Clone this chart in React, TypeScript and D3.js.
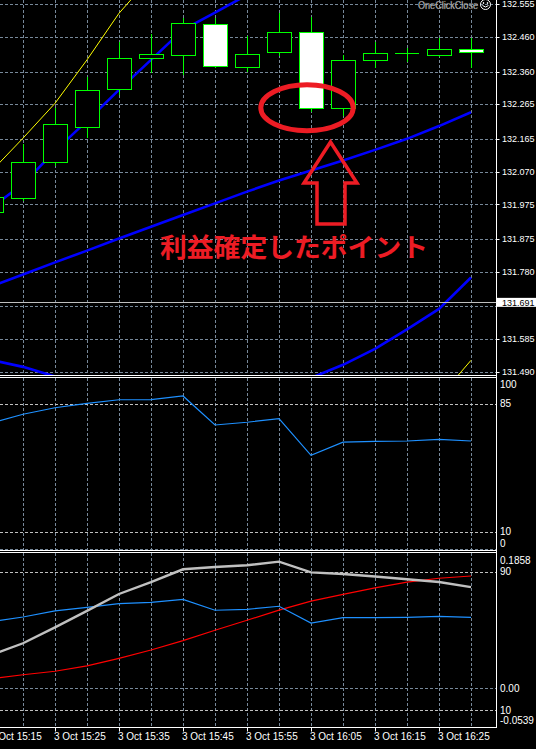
import React from 'react';
import * as d3 from 'd3';

const W = 536;
const H = 749;

// Bar times (M5)
const barTimes = [
  '15:15', '15:20', '15:25', '15:30', '15:35', '15:40', '15:45', '15:50',
  '15:55', '16:00', '16:05', '16:10', '16:15', '16:20', '16:25', '16:30',
];

// OHLC
const opens = [131.952, 131.993, 132.096, 132.199, 132.309, 132.398, 132.407, 132.497, 132.372, 132.416, 132.474, 132.254, 132.392, 132.411, 132.407, 132.425];
const highs = [132.017, 132.150, 132.255, 132.343, 132.446, 132.469, 132.514, 132.514, 132.463, 132.531, 132.519, 132.408, 132.445, 132.428, 132.458, 132.458];
const lows = [131.941, 131.985, 132.087, 132.167, 132.292, 132.355, 132.349, 132.370, 132.360, 132.405, 132.244, 132.231, 132.370, 132.387, 132.401, 132.370];
const closes = [131.994, 132.097, 132.207, 132.304, 132.398, 132.410, 132.500, 132.375, 132.410, 132.474, 132.254, 132.393, 132.411, 132.411, 132.425, 132.415];

// Bollinger bands (2σ blue, 3σ yellow)
const bbMid = [131.737, 131.772, 131.807, 131.841, 131.876, 131.910, 131.944, 131.978, 132.012, 132.044, 132.073, 132.102, 132.133, 132.165, 132.202, 132.242];
const bbUpper = [131.965, 132.034, 132.130, 132.217, 132.307, 132.394, 132.481, 132.531, 132.582, 132.631, 132.675, 132.695, 132.710, 132.717, 132.733, 132.721];
const bbLower = [131.524, 131.504, 131.476, 131.466, 131.446, 131.427, 131.408, 131.425, 131.442, 131.457, 131.472, 131.510, 131.556, 131.613, 131.672, 131.763];
const bbUpper3 = [132.070, 132.167, 132.268, 132.394, 132.529, 132.634, 132.749, 132.808, 132.867, 132.925, 132.976, 132.991, 132.998, 132.994, 132.998, 132.961];
const bbLower3 = [131.418, 131.370, 131.322, 131.278, 131.230, 131.186, 131.140, 131.149, 131.157, 131.164, 131.171, 131.213, 131.268, 131.337, 131.415, 131.523];

const bidPrice = 131.691;
const priceGrid = [132.555, 132.460, 132.360, 132.265, 132.165, 132.070, 131.975, 131.875, 131.780, 131.680, 131.585, 131.490];

// Oscillator window 1
const osc1 = [73.7, 79.0, 82.8, 85.4, 87.5, 87.6, 89.7, 72.7, 74.3, 76.4, 54.9, 62.6, 63.1, 63.3, 64.3, 63.3];
const osc1Levels = [85, 10];

// Oscillator window 2
const osc2Blue = [61.1, 63.8, 67.3, 69.4, 71.5, 72.3, 74.0, 67.7, 68.2, 70.0, 60.3, 63.4, 63.4, 63.6, 64.2, 63.6];
const osc2Gray = [41.8, 48.6, 57.8, 67.3, 77.1, 83.9, 91.4, 92.7, 93.7, 95.8, 89.6, 88.7, 87.2, 85.6, 84.0, 81.1];
const osc2Red = [28.0, 30.4, 32.4, 35.5, 39.9, 44.7, 50.1, 56.1, 61.9, 67.8, 73.0, 76.9, 80.6, 84.0, 86.2, 87.5];
const osc2Levels = [90, 10];
const macdMin = -0.0539;
const macdMax = 0.1858;

const annotation = '利益確定したポイント';

const FONT = '"Liberation Sans", Arial, sans-serif';
const GRID = '#778899';
const LEVEL = '#c0c0c0';
const CANDLE = '#00ff00';
const ANN = '#ed1c24';

const parse = d3.timeParse('%Y-%m-%d %H:%M');
const dates = barTimes.map((t) => parse(`2014-10-03 ${t}`) as Date);

const PLOT_R = 496.5;
const P1 = { top: 0, bottom: 375.5 };
const P2 = { top: 377.5, bottom: 550.5 };
const P3 = { top: 552.5, bottom: 727.5 };

export default function App() {
  const x = d3.scaleTime().domain([dates[0], dates[dates.length - 1]]).range([-9, 471]);
  const yP = d3.scaleLinear().domain([131.49, 132.555]).range([371.7, 4.3]);
  const y2 = d3.scaleLinear().domain([0, 100]).range([549, 378.4]);
  const y3 = d3.scaleLinear().domain([0, 100]).range([727.3, 554.4]);
  const yM = d3.scaleLinear().domain([macdMin, macdMax]).range([727.6, 552]);

  const lineOf = (vals: number[], y: d3.ScaleLinear<number, number>) =>
    d3.line<number>().x((_, i) => x(dates[i])).y((d) => y(d))(vals) || '';

  // time labels every second bar, starting with the first one
  const labelTicks = dates.filter((_, i) => i % 2 === 0);
  const fmt = d3.timeFormat('%-d %b %H:%M');
  const bodyW = 24;

  const bidY = yP(bidPrice);

  return (
    <svg width={W} height={H} style={{ position: 'absolute', left: 0, top: 0, background: '#000' }}
      xmlns="http://www.w3.org/2000/svg">
      <defs>
        <clipPath id="c1"><rect x={0} y={P1.top} width={PLOT_R} height={P1.bottom - P1.top} /></clipPath>
        <clipPath id="c2"><rect x={0} y={P2.top} width={PLOT_R} height={P2.bottom - P2.top} /></clipPath>
        <clipPath id="c3"><rect x={0} y={P3.top} width={PLOT_R} height={P3.bottom - P3.top} /></clipPath>
      </defs>
      <rect width={W} height={H} fill="#000" />

      {/* vertical grid */}
      {dates.map((d, i) => {
        const xx = Math.round(x(d)) + 0.5;
        if (xx < 0) return null;
        return (
          <g key={'vg' + i} stroke={GRID} strokeDasharray="3,2" shapeRendering="crispEdges">
            <line x1={xx} x2={xx} y1={P1.top} y2={P1.bottom} />
            <line x1={xx} x2={xx} y1={P2.top} y2={P2.bottom} />
            <line x1={xx} x2={xx} y1={P3.top} y2={P3.bottom} />
          </g>
        );
      })}

      {/* price panel */}
      <g clipPath="url(#c1)">
        {priceGrid.map((p) => (
          <line key={'hg' + p} x1={0} x2={PLOT_R} y1={Math.round(yP(p)) + 0.5} y2={Math.round(yP(p)) + 0.5}
            stroke={GRID} strokeDasharray="3,2" shapeRendering="crispEdges" />
        ))}
        <path d={lineOf(bbUpper3, yP)} fill="none" stroke="#ffff00" strokeWidth={1} />
        <path d={lineOf(bbLower3, yP)} fill="none" stroke="#ffff00" strokeWidth={1} />
        <path d={lineOf(bbUpper, yP)} fill="none" stroke="#0000ff" strokeWidth={2.6} />
        <path d={lineOf(bbMid, yP)} fill="none" stroke="#0000ff" strokeWidth={2.6} />
        <path d={lineOf(bbLower, yP)} fill="none" stroke="#0000ff" strokeWidth={2.6} />
        <line x1={0} x2={PLOT_R} y1={Math.round(bidY) + 0.5} y2={Math.round(bidY) + 0.5} stroke="#c0c0c0" />
        {dates.map((d, i) => {
          const cx = x(d);
          const o = yP(opens[i]);
          const c = yP(closes[i]);
          const top = Math.min(o, c);
          const bot = Math.max(o, c);
          const bear = closes[i] < opens[i];
          return (
            <g key={'k' + i} shapeRendering="crispEdges">
              <line x1={cx + 0.5} x2={cx + 0.5} y1={yP(highs[i])} y2={yP(lows[i])} stroke={CANDLE} />
              {bot - top < 1 ? (
                <line x1={cx - bodyW / 2} x2={cx + bodyW / 2} y1={top} y2={top} stroke={CANDLE} />
              ) : (
                <rect x={cx - bodyW / 2 + 0.5} y={top} width={bodyW} height={bot - top}
                  fill={bear ? '#ffffff' : '#000000'} stroke={CANDLE} strokeWidth={1} />
              )}
            </g>
          );
        })}
      </g>

      {/* oscillator 1 */}
      <g clipPath="url(#c2)">
        {osc1Levels.map((v) => (
          <line key={'l1' + v} x1={0} x2={PLOT_R} y1={Math.round(y2(v)) + 0.5} y2={Math.round(y2(v)) + 0.5}
            stroke={LEVEL} strokeDasharray="3,2" shapeRendering="crispEdges" />
        ))}
        <line x1={0} x2={PLOT_R} y1={549.5} y2={549.5} stroke={GRID} strokeDasharray="3,2" />
        <path d={lineOf(osc1, y2)} fill="none" stroke="#1e90ff" strokeWidth={1.2} />
      </g>

      {/* oscillator 2 */}
      <g clipPath="url(#c3)">
        {osc2Levels.map((v) => (
          <line key={'l2' + v} x1={0} x2={PLOT_R} y1={Math.round(y3(v)) + 0.5} y2={Math.round(y3(v)) + 0.5}
            stroke={LEVEL} strokeDasharray="3,2" shapeRendering="crispEdges" />
        ))}
        <line x1={0} x2={PLOT_R} y1={Math.round(yM(0)) + 0.5} y2={Math.round(yM(0)) + 0.5}
          stroke={GRID} strokeDasharray="3,2" shapeRendering="crispEdges" />
        <path d={lineOf(osc2Red, y3)} fill="none" stroke="#ff0000" strokeWidth={1.2} />
        <path d={lineOf(osc2Blue, y3)} fill="none" stroke="#1e90ff" strokeWidth={1.2} />
        <path d={lineOf(osc2Gray, y3)} fill="none" stroke="#c0c0c0" strokeWidth={2.4} />
      </g>

      {/* frame */}
      <g stroke="#ffffff" shapeRendering="crispEdges">
        <line x1={0} x2={PLOT_R} y1={P1.bottom} y2={P1.bottom} />
        <line x1={0} x2={PLOT_R} y1={P2.top} y2={P2.top} />
        <line x1={0} x2={PLOT_R} y1={P2.bottom} y2={P2.bottom} />
        <line x1={0} x2={PLOT_R} y1={P3.top} y2={P3.top} />
        <line x1={0} x2={PLOT_R} y1={P3.bottom} y2={P3.bottom} />
        <line x1={PLOT_R} x2={PLOT_R} y1={0} y2={P3.bottom} />
      </g>

      {/* price axis */}
      <g fontFamily={FONT} fontSize={9} fill="#ffffff">
        {priceGrid.filter((p) => Math.abs(yP(p) - bidY) > 8).map((p) => (
          <g key={'pl' + p}>
            <line x1={PLOT_R} x2={PLOT_R + 3} y1={Math.round(yP(p)) + 0.5} y2={Math.round(yP(p)) + 0.5} stroke="#fff" />
            <text x={502} y={yP(p)} dy="0.35em">{p.toFixed(3)}</text>
          </g>
        ))}
        <rect x={PLOT_R + 0.5} y={bidY - 4.5} width={W - PLOT_R} height={9} fill="#ffffff" />
        <text x={502} y={bidY} dy="0.35em" fill="#000">{bidPrice.toFixed(3)}</text>
      </g>

      {/* oscillator 1 axis */}
      <g fontFamily={FONT} fontSize={10} fill="#ffffff">
        <text x={500} y={y2(100) + 6} dy="0.35em">100</text>
        {osc1Levels.map((v) => (
          <text key={'t1' + v} x={500} y={y2(v)} dy="0.35em">{v}</text>
        ))}
        <text x={500} y={y2(0) - 6} dy="0.35em">0</text>
      </g>

      {/* oscillator 2 axis */}
      <g fontFamily={FONT} fontSize={10} fill="#ffffff">
        <text x={500} y={yM(macdMax) + 8} dy="0.35em">{macdMax.toFixed(4)}</text>
        {osc2Levels.map((v) => (
          <text key={'t2' + v} x={500} y={y3(v)} dy="0.35em">{v}</text>
        ))}
        <text x={500} y={yM(0)} dy="0.35em">0.00</text>
        <text x={500} y={yM(macdMin) - 7} dy="0.35em">{macdMin.toFixed(4)}</text>
      </g>

      {/* time axis */}
      <g fontFamily={FONT} fontSize={10} fill="#ffffff">
        {labelTicks.map((t, i) => {
          const xx = Math.round(x(t)) + 0.5;
          return (
            <g key={'tt' + i}>
              <line x1={xx} x2={xx} y1={P3.bottom} y2={P3.bottom + 4} stroke="#fff" />
              <text x={x(t) - 1} y={740}>{fmt(t)}</text>
            </g>
          );
        })}
      </g>

      {/* OneClickClose label */}
      <text x={418} y={8.5} fontFamily={FONT} fontSize={10} fill="#ffffff" stroke="#333" strokeWidth={0.3}
        textLength={60} lengthAdjust="spacingAndGlyphs">OneClickClose</text>
      <g stroke="#ffffff" fill="none" strokeWidth={1}>
        <circle cx={485.5} cy={4.5} r={5} />
        <circle cx={483.5} cy={3} r={0.5} fill="#fff" />
        <circle cx={487.5} cy={3} r={0.5} fill="#fff" />
        <path d="M482.5,5.5 Q485.5,8.5 488.5,5.5" />
      </g>

      {/* annotations */}
      <ellipse cx={307} cy={107.8} rx={46.2} ry={23} fill="none" stroke={ANN} strokeWidth={5} />
      <path d="M330.5,142 L357,183 L345,183 L345,224 L317,224 L317,183 L304,183 Z"
        fill="none" stroke={ANN} strokeWidth={3.5} strokeLinejoin="miter" />
      <text x={160} y={257} fontFamily='"Noto Sans CJK JP", sans-serif' fontWeight="bold" fontSize={26}
        fill={ANN} textLength={268} lengthAdjust="spacingAndGlyphs">{annotation}</text>
    </svg>
  );
}
